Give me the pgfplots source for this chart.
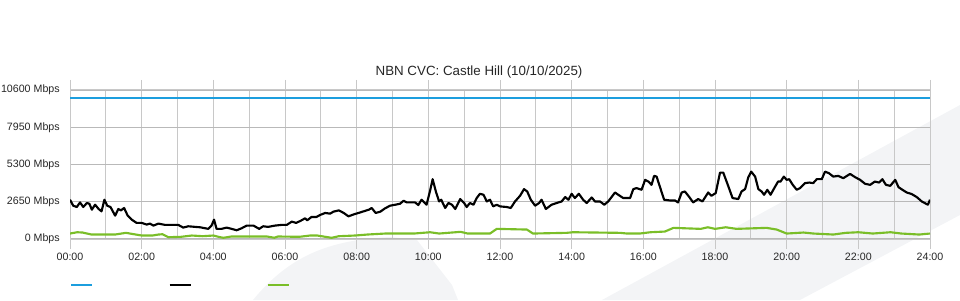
\documentclass[border=0pt]{standalone}
\usepackage{fontspec}
\setmainfont{Liberation Sans}
\usepackage{pgfplots}
\pgfplotsset{compat=1.18}
\definecolor{capblue}{RGB}{28,158,222}
\definecolor{usegreen}{RGB}{122,190,40}
\definecolor{bandgray}{RGB}{243,244,246}
\definecolor{gridgray}{RGB}{200,200,200}
\definecolor{majgray}{RGB}{185,185,185}
\begin{document}
\begin{tikzpicture}[x=0.75pt,y=0.75pt]
\useasboundingbox (0,0) rectangle (960,300);
% faint background watermark
\fill[bandgray] (602,0) -- (960,195) -- (960,85) -- (800,0) -- cycle;
\fill[bandgray] (253,0) .. controls (290,45) and (330,60) .. (390,63) -- (417,60) -- (452,15) -- (458,0) -- cycle;
\begin{axis}[
  at={(52.5pt,45.75pt)}, anchor=south west,
  scale only axis, width=645pt, height=111.75pt,
  xmin=0, xmax=24, ymin=0, ymax=10600,
  scaled y ticks=false,
  xtick={0,2,...,24},
  xticklabels={00:00,02:00,04:00,06:00,08:00,10:00,12:00,14:00,16:00,18:00,20:00,22:00,24:00},
  minor xtick={1,3,...,23},
  ytick={0,2650,5300,7950,10600},
  yticklabels={0 Mbps,2650 Mbps,5300 Mbps,7950 Mbps,10600 Mbps},
  xmajorgrids, xminorgrids, ymajorgrids,
  major x grid style={gridgray, line width=0.75pt},
  minor x grid style={gridgray, line width=0.75pt},
  major y grid style={majgray, line width=1.1pt},
  axis line style={draw=gridgray, line width=0.75pt},
  tick align=outside, major tick length=7.5pt, minor tick length=0pt,
  xtick style={draw=gridgray, line width=0.75pt},
  ytick style={draw=none},
  ticklabel style={font=\fontsize{8}{9.6}\selectfont, text=black!85},
  xticklabel style={inner sep=0pt, yshift=-2.8pt},
  yticklabel style={inner sep=0pt},
  title={NBN CVC: Castle Hill (10/10/2025)},
  title style={at={(axis description cs:0.4756,1.045)}, anchor=base, yshift=0pt, font=\fontsize{10}{12}\selectfont, text=black!85, inner sep=0pt},
  legend columns=3,
  legend style={at={(axis description cs:0,-0.309)}, anchor=west, draw=none, fill=none, inner sep=0pt, outer sep=0pt,
    nodes={inner sep=0pt, outer sep=0pt},
    /tikz/every even column/.append style={column sep=55.5pt}},
  legend image code/.code={\draw[#1, line width=1.6pt] (0pt,0pt) -- (15.75pt,0pt);},
  line join=round,
]
\addplot[capblue, line width=1.6pt] coordinates {(0,10000) (24,10000)};
\addlegendentry{}
\addplot[black, line width=1.6pt] coordinates {
(0.00,2793) (0.09,2368) (0.19,2276) (0.28,2602) (0.37,2276) (0.47,2559) (0.54,2510) (0.61,2086)
(0.70,2439) (0.80,2135) (0.88,1965) (0.96,2793) (1.04,2368) (1.13,2276) (1.26,1661) (1.35,2135)
(1.42,2036) (1.51,2206) (1.61,1661) (1.72,1379) (1.86,1145) (2.00,1145) (2.14,1025) (2.23,1096)
(2.33,954) (2.47,1096) (2.65,1004) (3.02,1004) (3.16,813) (3.30,905) (3.49,862) (3.63,834)
(3.86,721) (3.95,954) (4.02,1379) (4.09,721) (4.23,721) (4.37,813) (4.51,721) (4.65,622)
(4.79,764) (4.93,954) (5.12,954) (5.28,721) (5.39,905) (5.53,862) (5.72,954) (5.91,1004)
(6.05,1004) (6.19,1237) (6.31,1145) (6.43,1287) (6.56,1471) (6.62,1329) (6.74,1569) (6.88,1569)
(6.98,1711) (7.12,1852) (7.26,1803) (7.35,1944) (7.50,2036) (7.64,1852) (7.77,1612) (7.92,1753)
(8.05,1852) (8.19,1965) (8.34,2086) (8.42,2206) (8.53,1852) (8.66,1944) (8.79,2178) (8.93,2368)
(9.12,2460) (9.21,2510) (9.31,2722) (9.40,2602) (9.63,2602) (9.72,2418) (9.81,2793) (9.95,2439)
(10.05,3450) (10.12,4256) (10.21,3380) (10.30,2672) (10.36,2793) (10.47,2206) (10.56,2559) (10.66,2439)
(10.75,2135) (10.89,2842) (11.00,2559) (11.07,2276) (11.16,2559) (11.26,2439) (11.35,2913) (11.44,3217)
(11.54,3146) (11.63,2672) (11.72,2793) (11.81,2319) (11.91,2439) (12.00,2319) (12.19,2276) (12.30,2206)
(12.42,2672) (12.56,3075) (12.67,3549) (12.76,3380) (12.86,2793) (12.98,2368) (13.09,2559) (13.16,2793)
(13.28,2135) (13.44,2439) (13.58,2559) (13.72,2672) (13.82,2984) (13.91,2793) (14.00,3217) (14.09,2913)
(14.20,3217) (14.32,2793) (14.42,2559) (14.56,2955) (14.65,2672) (14.79,2672) (14.91,2439) (15.02,2672)
(15.21,3309) (15.30,3146) (15.44,2913) (15.63,2913) (15.72,3549) (15.81,3620) (15.95,3500) (16.05,4207)
(16.14,4086) (16.23,3853) (16.30,4489) (16.37,4440) (16.46,3733) (16.58,2793) (16.74,2743) (16.88,2743)
(16.97,2602) (17.07,3309) (17.16,3380) (17.27,3026) (17.39,2602) (17.53,2842) (17.65,2672) (17.81,3309)
(17.90,3075) (18.02,3266) (18.14,4723) (18.23,4723) (18.34,3973) (18.49,2913) (18.65,2842) (18.74,3380)
(18.84,3549) (18.93,4398) (19.01,4793) (19.12,4440) (19.21,3549) (19.30,3380) (19.37,3146) (19.46,3500)
(19.55,3146) (19.67,3690) (19.76,4086) (19.83,4086) (19.92,4440) (20.00,4207) (20.07,4256) (20.17,3853)
(20.28,3500) (20.37,3620) (20.51,3973) (20.63,4016) (20.74,3973) (20.84,4256) (20.98,4256) (21.07,4793)
(21.18,4680) (21.30,4440) (21.44,4489) (21.58,4327) (21.77,4631) (21.91,4398) (22.05,4207) (22.19,3924)
(22.33,3853) (22.46,4086) (22.58,4016) (22.67,4256) (22.77,3853) (22.89,3782) (23.03,4207) (23.12,3690)
(23.23,3500) (23.35,3309) (23.49,3196) (23.63,2984) (23.77,2672) (23.94,2439) (24.00,2793)
};
\addlegendentry{}
\addplot[usegreen, line width=1.6pt] coordinates {
(0,389) (0.2,481) (0.35,460) (0.6,318) (1.26,318) (1.56,438) (2.0,247) (2.3,247) (2.47,318) (2.58,339)
(2.75,127) (3.1,156) (3.4,247) (3.7,200) (4.0,247) (4.15,150) (4.28,85) (4.5,177) (5.5,177) (5.7,90)
(5.8,177) (6.4,156) (6.7,247) (6.9,247) (7.3,85) (7.5,198) (7.95,247) (8.3,318) (8.8,389) (9.3,389)
(9.6,389) (10.05,481) (10.3,389) (10.9,509) (11.1,389) (11.72,389) (11.91,721) (12.75,672) (12.92,389)
(13.86,438) (14.04,481) (15.35,438) (15.54,389) (15.9,389) (16.2,481) (16.6,530) (16.84,792) (17.6,721)
(17.8,834) (18.0,721) (18.3,834) (18.6,721) (19.44,792) (19.72,672) (20.0,389) (20.47,460) (20.75,389)
(21.3,318) (21.65,438) (22.0,481) (22.4,389) (22.9,481) (23.2,389) (23.7,318) (24,389)
};
\addlegendentry{}
\end{axis}
\end{tikzpicture}
\end{document}
